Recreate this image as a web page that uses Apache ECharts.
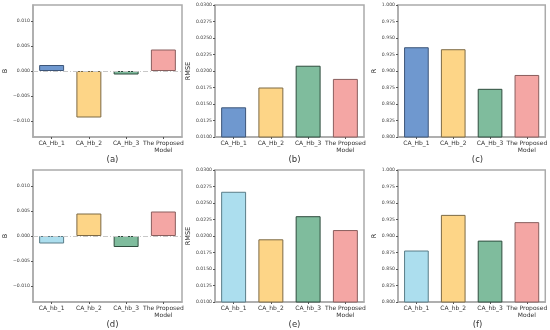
<!DOCTYPE html>
<html><head><meta charset="utf-8">
<script src="https://cdn.jsdelivr.net/npm/echarts@6/dist/echarts.min.js"></script>
<style>html,body{margin:0;padding:0;background:#fff}#c{width:550px;height:330px}</style>
</head><body><div id="c"></div>
<script>
var catsTop = ['CA_Hb_1', 'CA_Hb_2', 'CA_Hb_3', 'The Proposed\nModel'];
var catsBottom = ['CA_hb_1', 'CA_hb_2', 'CA_hb_3', 'The Proposed\nModel'];
var bTop = [0.0012, -0.0093, -0.0007, 0.0043];
var rmseTop = [0.0145, 0.0175, 0.0208, 0.0188];
var rTop = [0.936, 0.933, 0.873, 0.894];
var bBottom = [-0.0015, 0.0045, -0.0022, 0.0049];
var rmseBottom = [0.0267, 0.0195, 0.0230, 0.0209];
var rBottom = [0.878, 0.932, 0.893, 0.921];
var bTicks = [-0.010, -0.005, 0.000, 0.005, 0.010];
var rmseTicks = [0.0100, 0.0125, 0.0150, 0.0175, 0.0200, 0.0225, 0.0250, 0.0275, 0.0300];
var rTicks = [0.800, 0.825, 0.850, 0.875, 0.900, 0.925, 0.950, 0.975, 1.000];
var panelLabels = ['(a)', '(b)', '(c)', '(d)', '(e)', '(f)'];
var yNames = ['B', 'RMSE', 'R', 'B', 'RMSE', 'R'];

var colorsTop = ['#6f98cf', '#fdd587', '#7fbc9d', '#f4a6a4'];
var colorsBottom = ['#acdeee', '#fdd587', '#7fbc9d', '#f4a6a4'];
var edgesTop = ['#3d5679', '#7d6a45', '#2f4d3e', '#8a5f5e'];
var edgesBottom = ['#5a7d88', '#7d6a45', '#2f4d3e', '#8a5f5e'];

var FONT = 'DejaVu Sans';
var lefts = [33, 215, 398];
var tops = [5, 170];
var W = 149, H = 132;

var grids = [], xAxes = [], yAxes = [], series = [], titles = [];
var datasets = [bTop, rmseTop, rTop, bBottom, rmseBottom, rBottom];
var ranges = [[-0.0132, 0.0132], [0.01, 0.03], [0.8, 1.0]];
var tickSets = [bTicks, rmseTicks, rTicks];
var decs = [3, 4, 3];
var nameGaps = [22, 22, 18];

function fmt(v, d) {
  var s = Math.abs(v) < 1e-12 ? (0).toFixed(d) : v.toFixed(d);
  return s.replace('-', '\u2212');
}

for (var i = 0; i < 6; i++) {
  var row = Math.floor(i / 3), col = i % 3;
  var cats = row === 0 ? catsTop : catsBottom;
  var cols = row === 0 ? colorsTop : colorsBottom;
  var edges = row === 0 ? edgesTop : edgesBottom;
  grids.push({left: lefts[col], top: tops[row], width: W, height: H, show: true,
    borderColor: '#ababab', borderWidth: 1.5, backgroundColor: 'transparent'});
  xAxes.push({type: 'category', gridIndex: i, data: cats,
    axisLine: {show: true, onZero: false, lineStyle: {color: '#ababab', width: 1.5}},
    axisTick: {show: true, alignWithLabel: true, length: 2, lineStyle: {color: '#555'}},
    axisLabel: {fontFamily: FONT, fontSize: 6, color: '#333', margin: 3, lineHeight: 7, interval: 0}
  });
  var tk = tickSets[col];
  yAxes.push({type: 'value', gridIndex: i, min: ranges[col][0], max: ranges[col][1],
    name: yNames[i], nameLocation: 'middle', nameGap: nameGaps[col],
    nameTextStyle: {fontFamily: FONT, fontSize: 6.5, color: '#222'},
    splitLine: {show: false},
    axisLine: {show: true, lineStyle: {color: '#ababab', width: 1.5}},
    axisTick: {show: true, length: 2, customValues: tk, lineStyle: {color: '#555'}},
    axisLabel: {fontFamily: FONT, fontSize: 4.6, color: '#444', margin: 3, customValues: tk,
      formatter: (function (d) { return function (v) { return fmt(v, d); }; })(decs[col])}
  });
  var vals = datasets[i];
  var data = vals.map(function (v, k) {
    return {value: v, itemStyle: {color: cols[k], borderColor: edges[k], borderWidth: 1}};
  });
  var s = {type: 'bar', xAxisIndex: i, yAxisIndex: i, data: data, barWidth: '67%', silent: true};
  if (col === 0) {
    s.markLine = {silent: true, symbol: 'none', label: {show: false},
      lineStyle: {color: '#c8c8c8', type: [5, 2, 1, 2], width: 1},
      data: [{yAxis: 0}]};
    s.z = 3;
  }
  series.push(s);
  titles.push({text: panelLabels[i], left: lefts[col] + W / 2, top: tops[row] + 145, textAlign: 'center',
    textStyle: {fontFamily: FONT, fontSize: 8.5, fontWeight: 'normal', color: '#333'}});
}

var chart = echarts.init(document.getElementById('c'), null, {renderer: 'canvas'});
chart.setOption({animation: false, title: titles, grid: grids, xAxis: xAxes, yAxis: yAxes, series: series});
</script></body></html>
